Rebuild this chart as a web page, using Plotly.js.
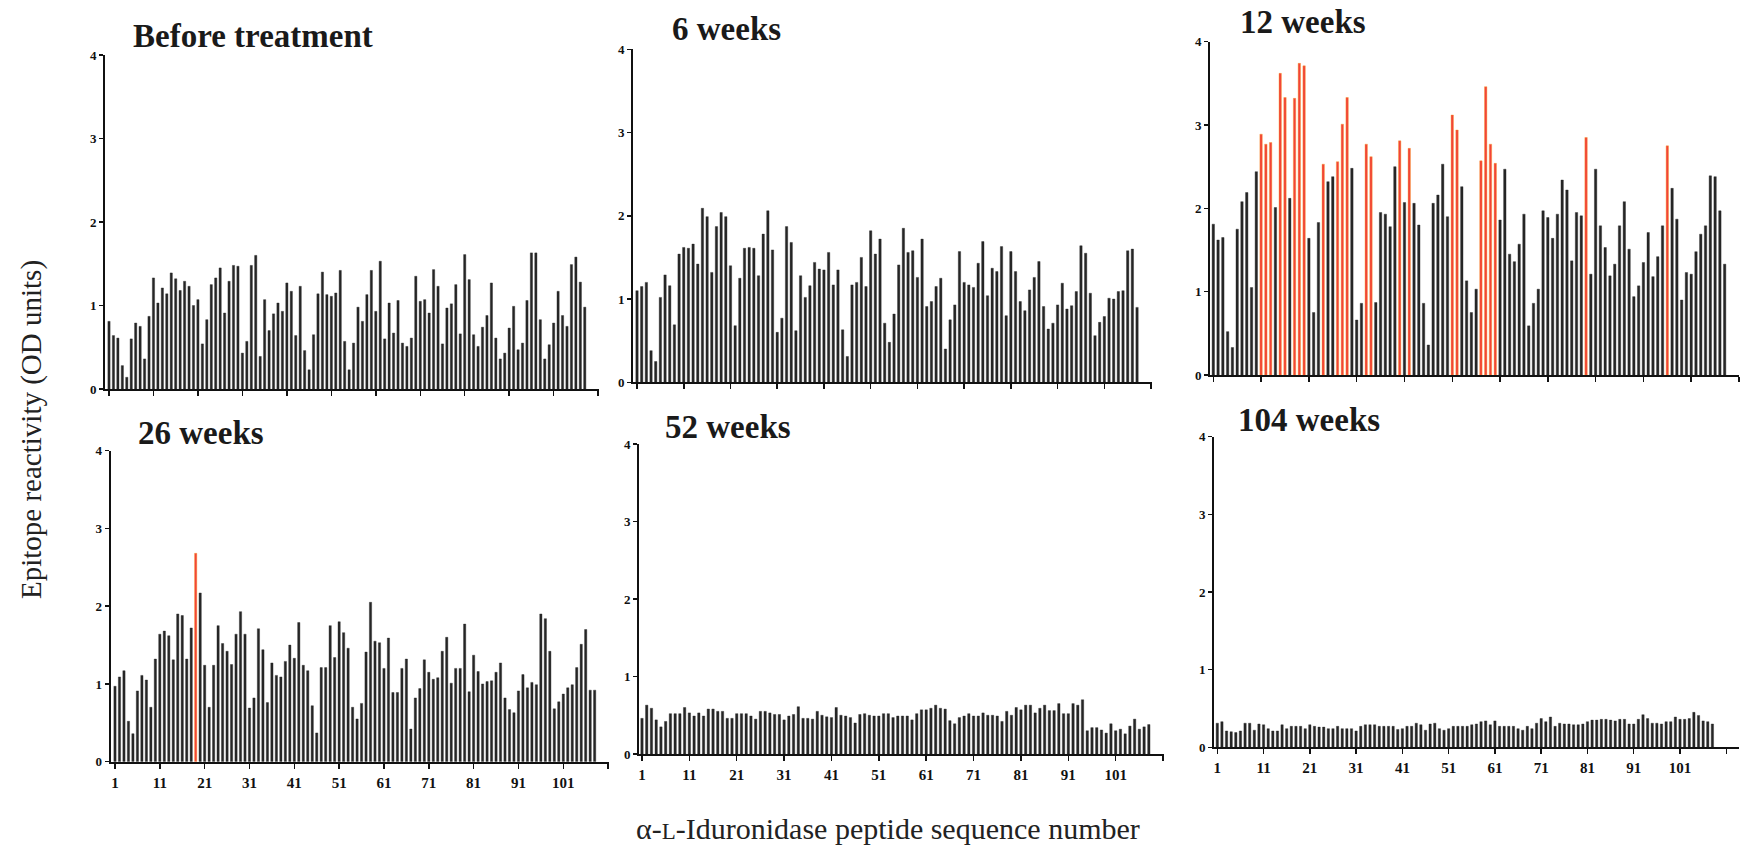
<!DOCTYPE html>
<html><head><meta charset="utf-8">
<script src="https://cdn.plot.ly/plotly-3.0.1.min.js"></script>
<style>html,body{margin:0;padding:0;background:#fff}#chart{width:1740px;height:854px}</style>
</head><body><div id="chart"></div>
<script>
// ---- data ----
const peptideNumbers = [1,2,3,4,5,6,7,8,9,10,11,12,13,14,15,16,17,18,19,20,21,22,23,24,25,26,27,28,29,30,31,32,33,34,35,36,37,38,39,40,41,42,43,44,45,46,47,48,49,50,51,52,53,54,55,56,57,58,59,60,61,62,63,64,65,66,67,68,69,70,71,72,73,74,75,76,77,78,79,80,81,82,83,84,85,86,87,88,89,90,91,92,93,94,95,96,97,98,99,100,101,102,103,104,105,106,107,108];
const tickValues = [1,11,21,31,41,51,61,71,81,91,101,111];
const tickLabels = ['1','11','21','31','41','51','61','71','81','91','101',''];
const yTickValues = [0,1,2,3,4];
const panelTitles = ['Before treatment','6 weeks','12 weeks','26 weeks','52 weeks','104 weeks'];

const beforeTreatment = [0.81,0.64,0.61,0.28,0.14,0.60,0.79,0.75,0.36,0.87,
 1.33,1.03,1.21,1.14,1.39,1.32,1.18,1.29,1.23,1.00,
 1.07,0.54,0.83,1.25,1.33,1.45,0.91,1.29,1.48,1.47,
 0.43,0.57,1.48,1.60,0.39,1.07,0.70,0.90,1.03,0.93,
 1.27,1.17,0.64,1.23,0.46,0.23,0.65,1.14,1.40,1.13,
 1.11,1.15,1.42,0.57,0.23,0.55,0.98,0.81,1.13,1.42,
 0.93,1.53,0.60,1.03,0.67,1.06,0.55,0.51,0.61,1.35,
 1.05,1.07,0.91,1.43,1.23,0.54,0.97,1.02,1.25,0.66,
 1.61,1.31,0.65,0.51,0.74,0.88,1.27,0.61,0.36,0.43,
 0.73,0.99,0.47,0.55,1.06,1.63,1.63,0.83,0.36,0.53,
 0.79,1.17,0.88,0.75,1.49,1.58,1.28,0.98];

const week6 = [1.10,1.15,1.20,0.38,0.25,1.02,1.29,1.16,0.69,1.54,
 1.62,1.61,1.66,1.42,2.09,1.99,1.32,1.87,2.04,1.99,
 1.40,0.68,1.25,1.61,1.62,1.61,1.28,1.78,2.06,1.59,
 0.60,0.77,1.87,1.68,0.62,1.28,1.02,1.16,1.44,1.36,
 1.35,1.56,1.17,1.35,0.63,0.31,1.17,1.20,1.50,1.15,
 1.82,1.54,1.72,0.71,0.48,0.82,1.41,1.85,1.56,1.58,
 1.26,1.72,0.91,0.97,1.15,1.25,0.40,0.75,0.93,1.57,
 1.20,1.17,1.14,1.43,1.69,1.04,1.37,1.33,1.63,0.80,
 1.57,1.33,0.97,0.86,1.11,1.26,1.45,0.91,0.64,0.71,
 0.93,1.19,0.88,0.92,1.09,1.64,1.55,1.07,0.56,0.72,
 0.79,1.01,1.00,1.09,1.10,1.58,1.60,0.90];

const week12 = [1.81,1.62,1.65,0.52,0.33,1.75,2.08,2.19,1.05,2.44,
 2.89,2.77,2.79,2.01,3.62,3.33,2.12,3.32,3.74,3.71,
 1.64,0.75,1.83,2.53,2.32,2.38,2.56,3.01,3.33,2.48,
 0.66,0.86,2.77,2.62,0.87,1.95,1.93,1.78,2.50,2.81,
 2.07,2.72,2.06,1.80,0.86,0.36,2.06,2.16,2.53,1.90,
 3.12,2.94,2.26,1.13,0.75,1.03,2.57,3.46,2.77,2.54,
 1.86,2.47,1.45,1.36,1.57,1.93,0.59,0.86,1.03,1.97,
 1.89,1.64,1.93,2.34,2.22,1.37,1.95,1.91,2.85,1.21,
 2.47,1.79,1.53,1.19,1.33,1.79,2.08,1.51,0.94,1.07,
 1.35,1.71,1.18,1.42,1.79,2.75,2.24,1.87,0.90,1.23,
 1.21,1.48,1.69,1.79,2.39,2.38,1.97,1.33];

const week26 = [0.97,1.09,1.17,0.52,0.36,0.91,1.11,1.05,0.70,1.32,
 1.64,1.68,1.62,1.31,1.90,1.88,1.32,1.72,2.68,2.17,
 1.24,0.70,1.24,1.75,1.52,1.42,1.25,1.64,1.93,1.64,
 0.69,0.82,1.71,1.44,0.76,1.27,1.11,1.09,1.29,1.50,
 1.33,1.79,1.24,1.17,0.72,0.37,1.21,1.21,1.75,1.34,
 1.80,1.66,1.46,0.70,0.55,0.75,1.41,2.05,1.55,1.53,
 1.20,1.59,0.89,0.89,1.20,1.32,0.42,0.82,0.94,1.31,
 1.15,1.06,1.08,1.42,1.60,1.01,1.20,1.20,1.77,0.90,
 1.37,1.16,1.00,1.03,1.04,1.15,1.27,0.82,0.67,0.63,
 0.91,1.12,0.95,1.02,0.99,1.90,1.84,1.42,0.68,0.77,
 0.87,0.95,0.99,1.21,1.51,1.70,0.92,0.92];

const week52 = [0.46,0.63,0.59,0.44,0.35,0.42,0.52,0.52,0.52,0.60,
 0.53,0.49,0.53,0.49,0.58,0.58,0.55,0.55,0.46,0.46,
 0.52,0.52,0.52,0.49,0.45,0.55,0.55,0.53,0.51,0.51,
 0.44,0.49,0.51,0.61,0.46,0.46,0.45,0.55,0.50,0.48,
 0.47,0.60,0.50,0.49,0.47,0.40,0.51,0.52,0.50,0.49,
 0.49,0.52,0.52,0.47,0.49,0.49,0.49,0.44,0.52,0.57,
 0.57,0.59,0.63,0.59,0.58,0.43,0.39,0.47,0.49,0.52,
 0.49,0.49,0.53,0.50,0.50,0.49,0.42,0.55,0.50,0.60,
 0.57,0.63,0.63,0.53,0.59,0.63,0.56,0.56,0.65,0.52,
 0.52,0.65,0.63,0.70,0.30,0.34,0.34,0.31,0.27,0.39,
 0.30,0.32,0.26,0.36,0.45,0.32,0.35,0.38];

const week104 = [0.31,0.33,0.21,0.20,0.19,0.21,0.31,0.31,0.22,0.30,
 0.29,0.24,0.21,0.21,0.29,0.24,0.27,0.27,0.27,0.24,
 0.29,0.27,0.26,0.26,0.24,0.24,0.27,0.24,0.24,0.24,
 0.21,0.27,0.29,0.29,0.29,0.27,0.27,0.27,0.27,0.23,
 0.24,0.27,0.27,0.31,0.29,0.22,0.30,0.31,0.24,0.22,
 0.24,0.27,0.27,0.27,0.27,0.29,0.30,0.33,0.34,0.29,
 0.34,0.27,0.27,0.27,0.27,0.24,0.22,0.27,0.24,0.31,
 0.37,0.33,0.39,0.27,0.31,0.30,0.30,0.29,0.29,0.30,
 0.33,0.35,0.35,0.36,0.36,0.35,0.34,0.36,0.36,0.30,
 0.30,0.36,0.42,0.37,0.31,0.31,0.30,0.33,0.33,0.39,
 0.36,0.36,0.37,0.45,0.41,0.34,0.33,0.30];

// peptides highlighted (red bars)
const week12Highlighted = [11,12,13,15,16,18,19,20,24,27,28,29,33,34,40,42,51,52,57,58,59,60,79,96];
const week26Highlighted = [19];

const seriesList = [beforeTreatment, week6, week12, week26, week52, week104];
const highlightList = [[], [], week12Highlighted, week26Highlighted, [], []];

// ---- layout geometry (pixels) ----
const W = 1740, H = 854;
const geom = [
  {x0:105,   x1:599,  r0:0.10,  r1:111.2, yTop:55,    yBot:389,   labels:false, tx:131,  ty:36},
  {x0:633,   x1:1152, r0:0.14,  r1:111.2, yTop:49.3,  yBot:382.3, labels:false, tx:670,  ty:29},
  {x0:1210,  x1:1739, r0:0.31,  r1:111.0, yTop:41.7,  yBot:375,   labels:false, tx:1238, ty:22},
  {x0:110.7, x1:609,  r0:0.04,  r1:111.2, yTop:450.7, yBot:761.7, labels:true,  tx:136,  ty:433},
  {x0:639,   x1:1164, r0:0.37,  r1:111.2, yTop:444,   yBot:754,   labels:true,  tx:663,  ty:427},
  {x0:1214,  x1:1739, r0:0.287, r1:113.75,yTop:436.7, yBot:747.3, labels:true,  tx:1236, ty:420}
];

const BAR = '#262626', RED = '#f2433a', EDGE_RED = '#f79a1e';
const serif = 'Liberation Serif, Times New Roman, serif';

const traces = [];
const layout = {
  width: W, height: H, margin:{l:0,r:0,t:0,b:0},
  paper_bgcolor:'#fff', plot_bgcolor:'rgba(0,0,0,0)',
  showlegend:false, bargap:0.5,
  annotations: []
};

geom.forEach((g, i) => {
  const n = i + 1;
  const xa = n === 1 ? 'x' : 'x' + n;
  const ya = n === 1 ? 'y' : 'y' + n;
  const hl = highlightList[i];
  const colors = peptideNumbers.map(p => hl.includes(p) ? RED : BAR);
  const lineColors = peptideNumbers.map(p => hl.includes(p) ? EDGE_RED : BAR);
  traces.push({
    type:'bar', x: peptideNumbers, y: seriesList[i], xaxis: xa, yaxis: ya,
    marker:{color: colors, line:{color: lineColors, width: 0.4}},
    hoverinfo:'x+y'
  });
  layout['xaxis' + (n === 1 ? '' : n)] = {
    domain:[g.x0 / W, g.x1 / W], range:[g.r0, g.r1], anchor: ya,
    showline:true, linecolor:'#111', linewidth:2, mirror:false,
    ticks:'outside', ticklen:5, tickwidth:1.5, tickcolor:'#111',
    tickvals: tickValues, ticktext: g.labels ? tickLabels : tickValues.map(() => ''),
    tickfont:{family: serif, size:15, color:'#111', weight:'bold'},
    ticklabelstandoff: 1,
    showgrid:false, zeroline:false, fixedrange:true
  };
  layout['yaxis' + (n === 1 ? '' : n)] = {
    domain:[1 - g.yBot / H, 1 - g.yTop / H], range:[0, 4], anchor: xa,
    showline:true, linecolor:'#111', linewidth:2,
    ticks:'outside', ticklen:4, tickwidth:1.5, tickcolor:'#111',
    tickvals: yTickValues,
    tickfont:{family: serif, size:13, color:'#111', weight:'bold'},
    showgrid:false, zeroline:false, fixedrange:true
  };
  layout.annotations.push({
    text: panelTitles[i], xref:'paper', yref:'paper',
    x: g.tx / W, y: 1 - g.ty / H, xanchor:'left', yanchor:'middle', showarrow:false,
    font:{family: serif, size:33, color:'#1a1a1a', weight:'bold'}
  });
});

layout.annotations.push({
  text:'Epitope reactivity (OD units)', xref:'paper', yref:'paper',
  x: 31 / W, y: 1 - 430 / H, xanchor:'center', yanchor:'middle', textangle:-90, showarrow:false,
  font:{family: serif, size:29, color:'#222'}
});
layout.annotations.push({
  text:'α-<span style="font-size:23px">L</span>-Iduronidase peptide sequence number', xref:'paper', yref:'paper',
  x: 888 / W, y: 1 - 828 / H, xanchor:'center', yanchor:'middle', showarrow:false,
  font:{family: serif, size:30, color:'#222'}
});

Plotly.newPlot('chart', traces, layout, {displayModeBar:false, staticPlot:true});
</script>
</body></html>
